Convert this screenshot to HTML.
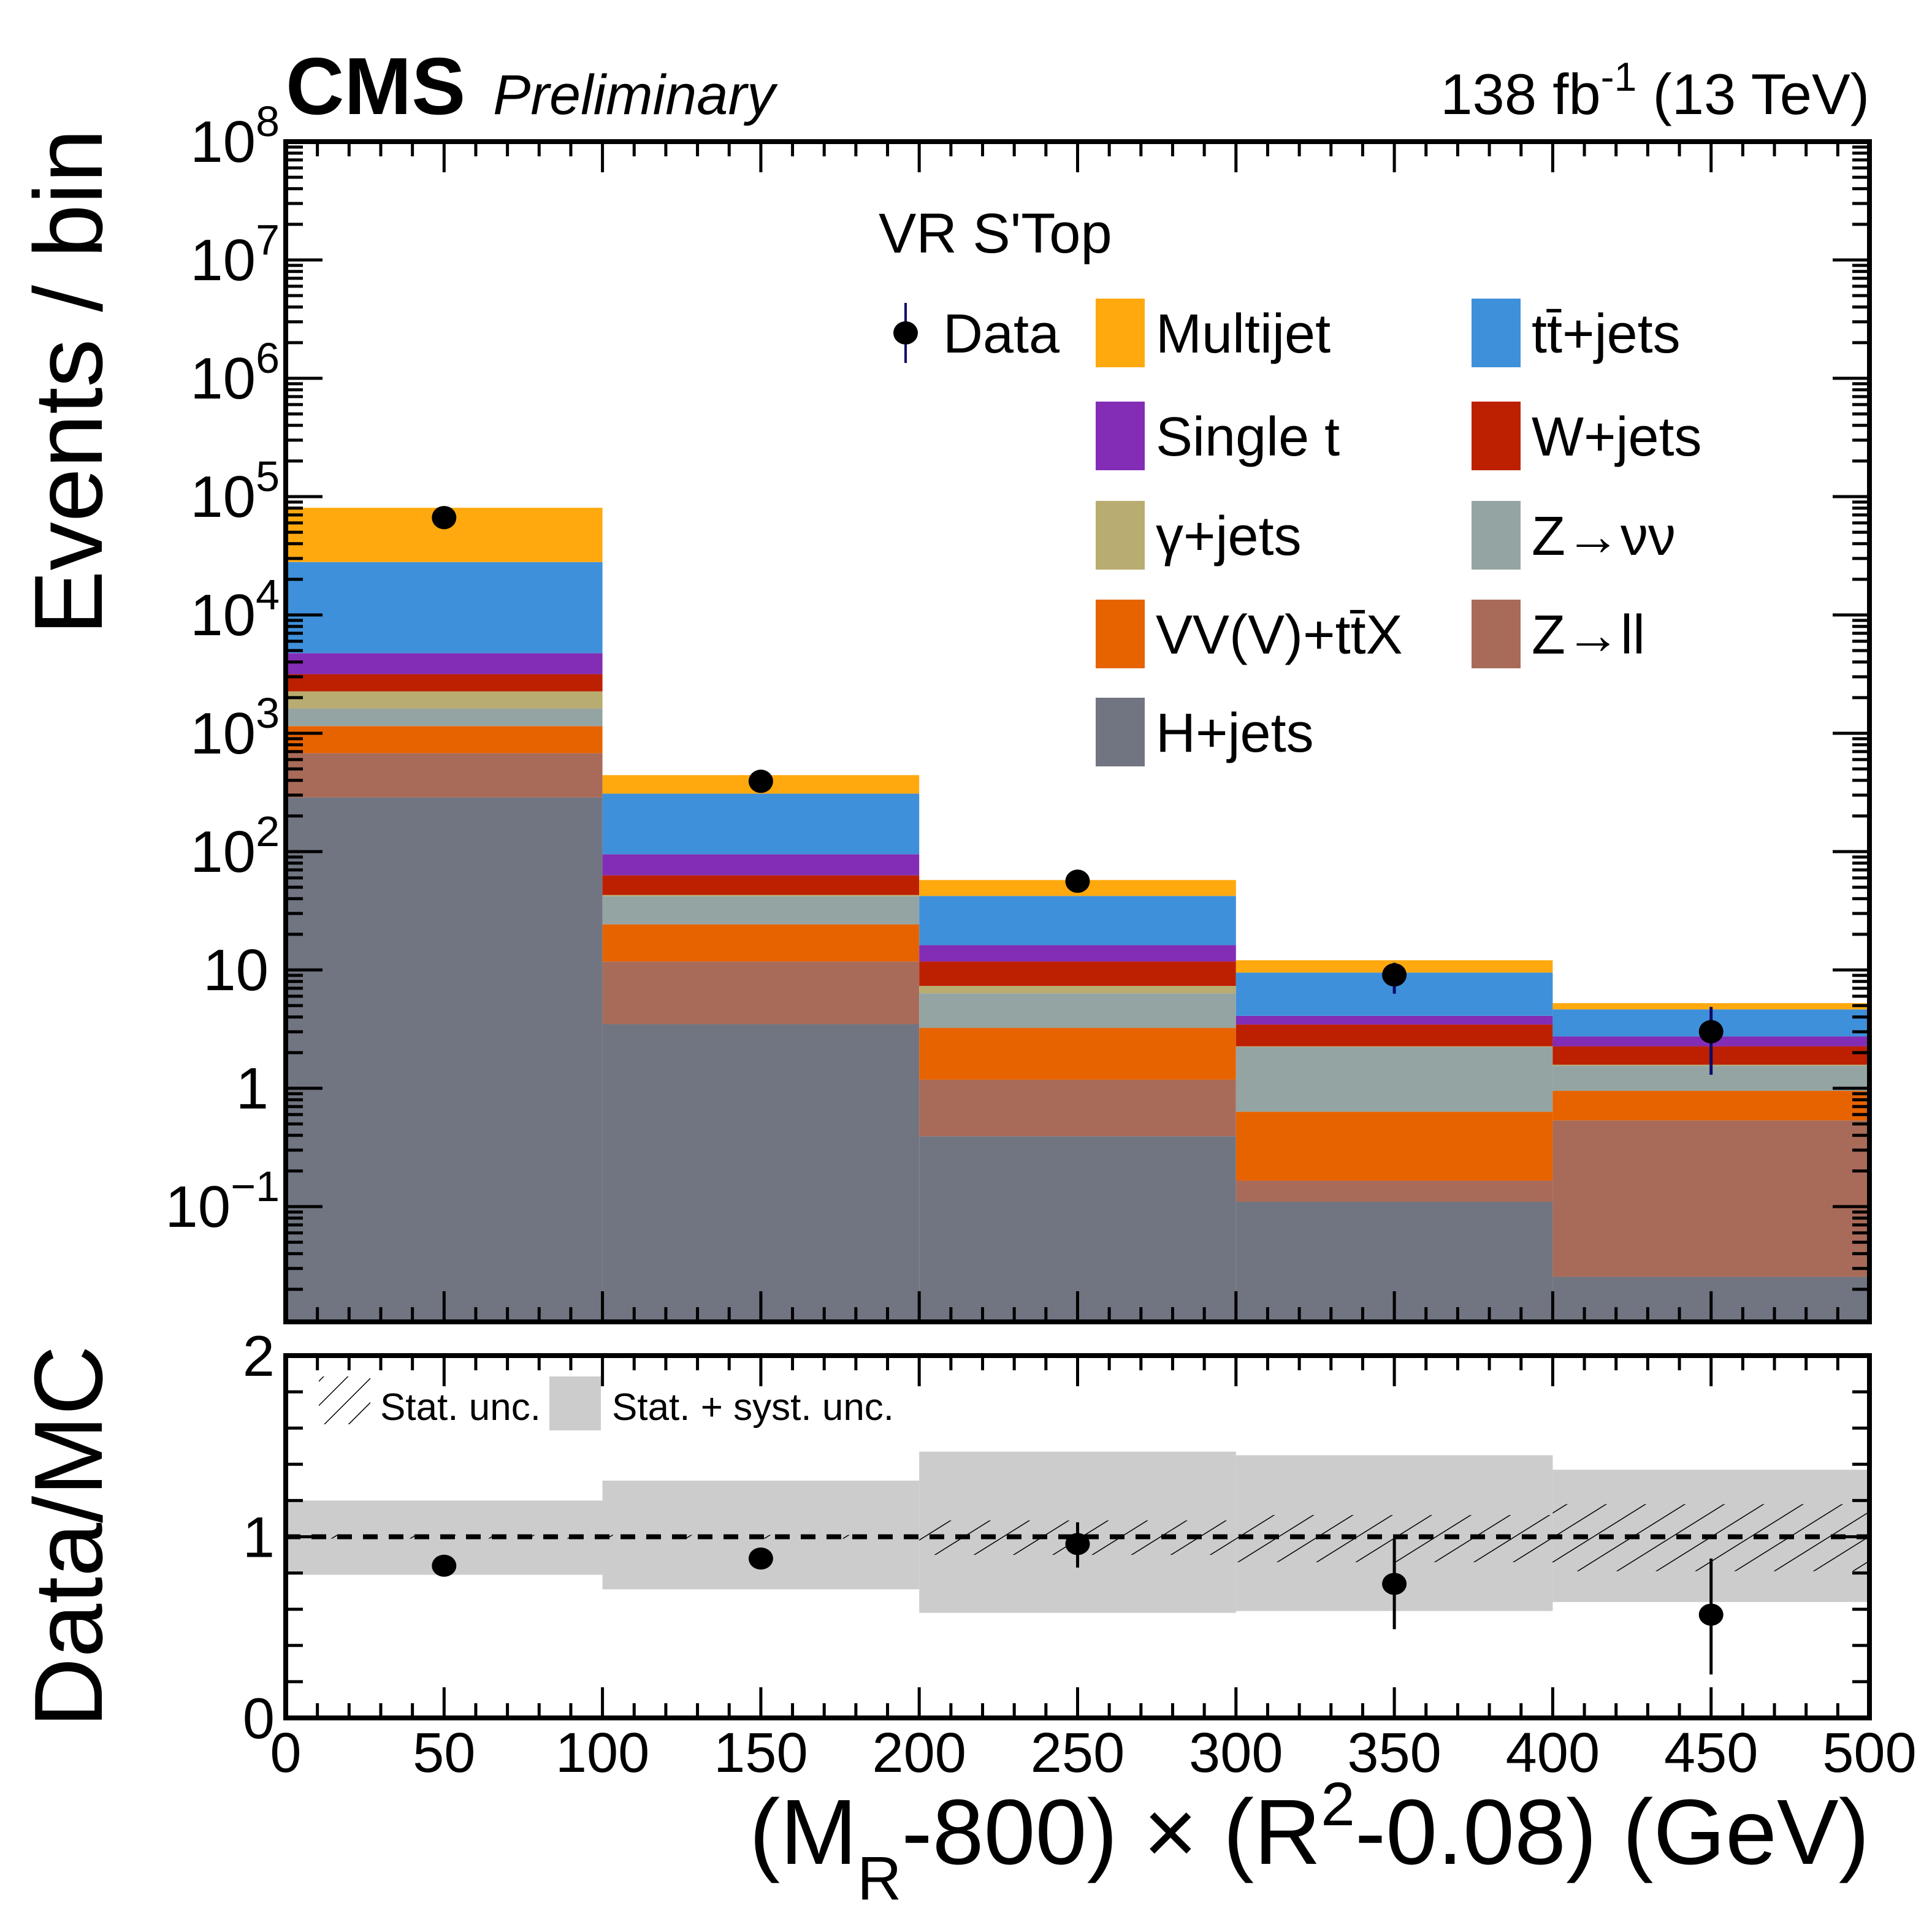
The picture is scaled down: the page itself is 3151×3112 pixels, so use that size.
<!DOCTYPE html>
<html><head><meta charset="utf-8">
<style>
html,body{margin:0;padding:0;background:#fff;}
svg{display:block;font-family:"Liberation Sans",sans-serif;}
</style></head>
<body>
<svg id="chart" width="3151" height="3112" viewBox="0 0 3151 3112" xmlns="http://www.w3.org/2000/svg"></svg>
<script>
// ---------- data ----------
const binEdges = [0, 100, 200, 300, 400, 500];
const processNames = ["H+jets","Z→ll","VV(V)+tt̄X","Z→νν","γ+jets","W+jets","Single t","tt̄+jets","Multijet"];
const hJets     = [287, 3.48, 0.393, 0.110, 0.0255];
const zll       = [393, 8.3, 0.79, 0.056, 0.51];
const vvttx     = [470, 12.5, 2.06, 0.468, 0.417];
const zvv       = [470, 17.7, 3.10, 1.6, 0.6];
const gjets     = [640, 1.0, 0.99, 0.03, 0.03];
const wjets     = [900, 20, 4.47, 1.19, 0.68];
const singleT   = [1590, 32, 4.4, 0.64, 0.48];
const ttjets    = [23250, 214, 26, 5.41, 1.9];
const multijet  = [52500, 134, 15.3, 2.57, 0.6];
const dataVals  = [66500, 393, 56.2, 9.08, 3.01];
const dataLow   = [66000, 380, 52, 6.3, 1.30];
const dataHigh  = [67000, 406, 61, 11.5, 4.87];
const ratioVals = [0.84, 0.88, 0.96, 0.74, 0.57];
const ratioLow  = [0.83, 0.87, 0.83, 0.49, 0.24];
const ratioHigh = [0.85, 0.89, 1.08, 0.99, 0.88];
const totUp     = [1.20, 1.31, 1.47, 1.45, 1.37];
const totDown   = [0.79, 0.71, 0.58, 0.59, 0.64];
const statUp    = [1.01, 1.01, 1.09, 1.12, 1.18];
const statDown  = [0.99, 0.99, 0.90, 0.86, 0.81];
const xTickLabels = ["0","50","100","150","200","250","300","350","400","450","500"];
const yDecades = [8,7,6,5,4,3,2,1,0,-1];
const ratioTickLabels = ["0","1","2"];

// ---------- geometry ----------
const L=466, R=3049, T=231, B=2156, RT=2211, RB=2802;
const LOGTOP=8, DEC=193;
const LOGBOT = LOGTOP-(B-T)/DEC;
function xs(v){return L+(v-0)/(500-0)*(R-L);}
function ys(v){let lv=Math.log10(v); lv=Math.max(LOGBOT,Math.min(LOGTOP,lv)); return T+(LOGTOP-lv)*DEC;}
function yr(v){v=Math.max(0,Math.min(2,v)); return RB-(v/2)*(RB-RT);}

const svg=document.getElementById('chart');
const NS="http://www.w3.org/2000/svg";
function el(tag,attrs,parent){const e=document.createElementNS(NS,tag);for(const k in attrs)e.setAttribute(k,attrs[k]);(parent||svg).appendChild(e);return e;}

const colors=["#717581","#a96b59","#e76300","#94a4a2","#b9ac70","#bd1f01","#832db6","#3f90da","#ffa90e"];
const series=[hJets,zll,vvttx,zvv,gjets,wjets,singleT,ttjets,multijet];
const seriesNames=["h-jets","z-ll","vv-ttx","z-nunu","gamma-jets","w-jets","single-t","tt-jets","multijet"];

// defs
const defs=el('defs',{});
const clip=el('clipPath',{id:'mainclip'},defs);
el('rect',{x:L,y:T,width:R-L,height:B-T},clip);
const clip2=el('clipPath',{id:'ratioclip'},defs);
el('rect',{x:L,y:RT,width:R-L,height:RB-RT},clip2);
const pat=el('pattern',{id:'hatch',patternUnits:'userSpaceOnUse',width:34,height:34,patternTransform:'rotate(58)'},defs);
el('line',{x1:0,y1:0,x2:0,y2:34,stroke:'#000','stroke-width':3},pat);
const pat2=el('pattern',{id:'hatch2',patternUnits:'userSpaceOnUse',width:28,height:28,patternTransform:'rotate(45)'},defs);
el('line',{x1:0,y1:0,x2:0,y2:28,stroke:'#000','stroke-width':3},pat2);

// stacked bars
const gStack=el('g',{'clip-path':'url(#mainclip)'});


for(let b=0;b<5;b++){
  let cum=0;
  for(let s=0;s<series.length;s++){
    const lo=cum; cum+=series[s][b];
    const y1=ys(cum), y0=(s===0)?B+10:ys(lo);
    const r=el('rect',{x:xs(binEdges[b]),y:y1,width:xs(binEdges[b+1])-xs(binEdges[b]),height:Math.max(0,y0-y1),fill:colors[s]},gStack);
    
    
  }
}

// data points main
for(let b=0;b<5;b++){
  const cx=(xs(binEdges[b])+xs(binEdges[b+1]))/2;
  const g=el('g',{});
  
  
  el('line',{x1:cx,x2:cx,y1:ys(dataHigh[b]),y2:ys(dataLow[b]),stroke:'#0a0a6a','stroke-width':5},g);
  el('ellipse',{cx:cx,cy:ys(dataVals[b]),rx:20,ry:19,fill:'#000'},g);
}

// ratio panel bands
const gR=el('g',{'clip-path':'url(#ratioclip)'});


for(let b=0;b<5;b++){
  const x0=xs(binEdges[b]),w=xs(binEdges[b+1])-x0;
  const r=el('rect',{x:x0,y:yr(totUp[b]),width:w,height:yr(totDown[b])-yr(totUp[b]),fill:'#cccccc'},gR);
  
  
  const h=el('rect',{x:x0,y:yr(statUp[b]),width:w,height:yr(statDown[b])-yr(statUp[b]),fill:'url(#hatch)'},gR);
  
  
}
const ref=el('line',{x1:L,x2:R,y1:yr(1),y2:yr(1),stroke:'#000','stroke-width':8,'stroke-dasharray':'24 18'});


for(let b=0;b<5;b++){
  const cx=(xs(binEdges[b])+xs(binEdges[b+1]))/2;
  const g=el('g',{});
  
  
  el('line',{x1:cx,x2:cx,y1:yr(ratioHigh[b]),y2:yr(ratioLow[b]),stroke:'#000','stroke-width':5},g);
  el('ellipse',{cx:cx,cy:yr(ratioVals[b]),rx:20,ry:18,fill:'#000'},g);
}

// axes frames
function frame(y0,y1,name){
  const r=el('rect',{x:L,y:y0,width:R-L,height:y1-y0,fill:'none',stroke:'#000','stroke-width':8});
  
  
}
frame(T,B,'main-frame');
frame(RT,RB,'ratio-frame');

// x ticks
const gt=el('g',{stroke:'#000','stroke-width':5});


for(let v=0;v<=500;v+=10){
  const x=xs(v), major=(v%50===0), len=major?50:24;
  [[T,1],[B,-1],[RT,1],[RB,-1]].forEach(([y,d])=>{ if(v>0&&v<500) el('line',{x1:x,x2:x,y1:y,y2:y+d*len},gt);});
}
// y ticks main (log)
const gy=el('g',{stroke:'#000','stroke-width':5});


for(let d=-2;d<8;d++){
  for(let m=1;m<=9;m++){
    const v=m*Math.pow(10,d); const lv=Math.log10(v);
    if(lv<LOGBOT||lv>=LOGTOP) continue;
    const y=ys(v), len=(m===1)?60:28;
    el('line',{x1:L,x2:L+len,y1:y,y2:y},gy);
    el('line',{x1:R,x2:R-len,y1:y,y2:y},gy);
  }
}
// ratio y ticks
for(let i=1;i<10;i++){
  const v=i*0.2, y=yr(v), len=(i===5)?60:28;
  el('line',{x1:L,x2:L+len,y1:y,y2:y},gy);
  el('line',{x1:R,x2:R-len,y1:y,y2:y},gy);
}

// tick labels
xTickLabels.forEach((t)=>{
  const tx=el('text',{x:xs(+t),y:2890,'font-size':92,'text-anchor':'middle'});
  tx.textContent=t;
  
  
});
yDecades.forEach(d=>{
  const y=ys(Math.pow(10,d));
  const plain=(d===0||d===1);
  const tx=el('text',{x:plain?438:456,y:y+33,'font-size':96,'text-anchor':'end'});
  if(d===0){tx.textContent='1';}
  else if(d===1){tx.textContent='10';}
  else{
    tx.textContent='10';
    const sp=el('tspan',{dy:-42,'font-size':70},tx);
    sp.textContent=(d<0?'−':'')+Math.abs(d);
  }
  
  
});
ratioTickLabels.forEach(t=>{
  const tx=el('text',{x:448,y:yr(+t)+33,'font-size':94,'text-anchor':'end'});
  tx.textContent=t;
  
  
});

// titles
function txt(x,y,size,content,name,extra){
  const t=el('text',Object.assign({x:x,y:y,'font-size':size},extra||{}));
  t.textContent=content;
  
  
  return t;
}
txt(466,186,132,'CMS','cms-label',{'font-weight':'bold'});
txt(804,186,92,'Preliminary','preliminary-label',{'font-style':'italic'});
const lumi=txt(3049,186,94,'138 fb','lumi-label',{'text-anchor':'end'});
const ls=el('tspan',{dy:-38,'font-size':66},lumi); ls.textContent='-1';
const ls2=el('tspan',{dy:38},lumi); ls2.textContent=' (13 TeV)';
txt(0,0,158,'Events / bin','y-axis-title',{'text-anchor':'middle',transform:'translate(166,623) rotate(-90)'});
txt(0,0,158,'Data/MC','ratio-y-axis-title',{'text-anchor':'middle',transform:'translate(166,2506) rotate(-90)'});
const xt=txt(3049,3040,151,'(M','x-axis-title',{'text-anchor':'end'});
const s1=el('tspan',{dy:58,'font-size':100},xt); s1.textContent='R';
const s2=el('tspan',{dy:-58},xt); s2.textContent='-800) × (R';
const s3=el('tspan',{dy:-63,'font-size':100},xt); s3.textContent='2';
const s4=el('tspan',{dy:63},xt); s4.textContent='-0.08) (GeV)';

// legend
txt(1433,412,92,"VR S'Top",'legend-header');
const ld=el('g',{});


el('line',{x1:1477,x2:1477,y1:494,y2:592,stroke:'#0a0a6a','stroke-width':4},ld);
el('ellipse',{cx:1477,cy:543,rx:20,ry:19,fill:'#000'},ld);
txt(1538,575,90,'Data','legend-label-data');
const legItems=[
  [8,1787,543],[7,2400,543],
  [6,1787,711],[5,2400,711],
  [4,1787,873],[3,2400,873],
  [2,1787,1034],[1,2400,1034],
  [0,1787,1194]
];
const legLabels={8:'Multijet',7:'tt̄+jets',6:'Single t',5:'W+jets',4:'γ+jets',3:'Z→νν',2:'VV(V)+tt̄X',1:'Z→ll',0:'H+jets'};
legItems.forEach(([s,x,y])=>{
  const g=el('g',{});
  
  
  el('rect',{x:x,y:y-56,width:80,height:112,fill:colors[s]},g);
  const t=el('text',{x:x+98,y:y+32,'font-size':90},g);
  t.textContent=legLabels[s];
});

// ratio legend
const rl=el('g',{});


el('rect',{x:520,y:2245,width:84,height:78,fill:'url(#hatch2)'},rl);
const rt1=el('text',{x:620,y:2316,'font-size':62},rl); rt1.textContent='Stat. unc.';
el('rect',{x:896,y:2245,width:84,height:88,fill:'#cccccc'},rl);
const rt2=el('text',{x:998,y:2316,'font-size':62},rl); rt2.textContent='Stat. + syst. unc.';
</script>
</body></html>
